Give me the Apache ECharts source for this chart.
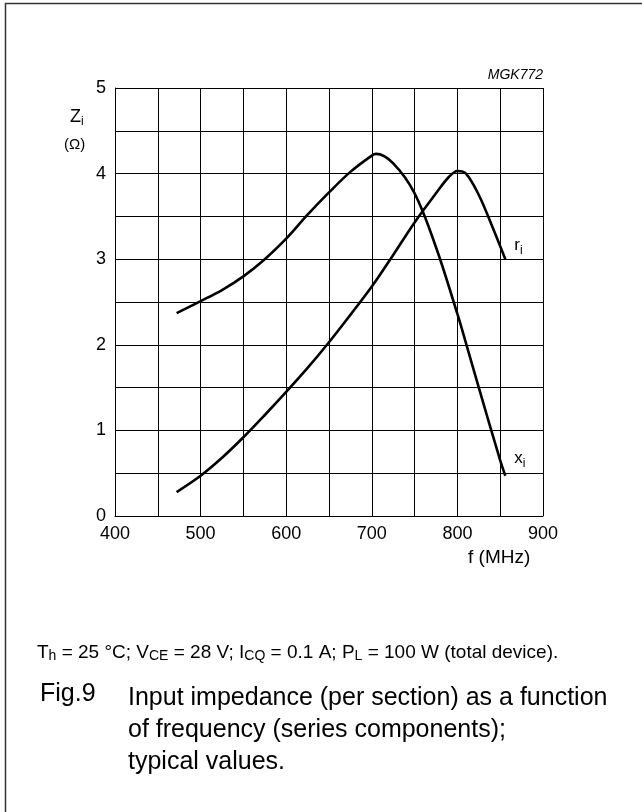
<!DOCTYPE html>
<html>
<head>
<meta charset="utf-8">
<script src="https://cdn.jsdelivr.net/npm/echarts@6/dist/echarts.min.js"></script>
<style>
  html, body { margin: 0; padding: 0; background: #fff; }
  #chart { width: 642px; height: 812px; }
</style>
</head>
<body>
<div id="chart"></div>
<script>
// x_i curve (peaks near 705 MHz)
const xiFreq = [472, 500, 525, 550, 575, 600, 625, 650, 675, 700, 705, 725, 750, 775, 800, 810, 825, 850, 856]
const xiVals = [2.37, 2.51, 2.64, 2.80, 3.00, 3.24, 3.52, 3.78, 4.02, 4.21, 4.23, 4.12, 3.77, 3.14, 2.36, 2.02, 1.50, 0.65, 0.47]
// r_i curve (peaks near 800 MHz)
const riFreq = [472, 500, 525, 550, 575, 600, 625, 650, 675, 700, 725, 750, 775, 790, 800, 810, 825, 840, 856]
const riVals = [0.28, 0.47, 0.68, 0.92, 1.18, 1.45, 1.73, 2.03, 2.35, 2.68, 3.05, 3.43, 3.77, 3.96, 4.03, 4.00, 3.75, 3.40, 3.00]

const xTicks = [400, 500, 600, 700, 800, 900]
const yTicks = [0, 1, 2, 3, 4, 5]

const FONT = 'Liberation Sans, Arial, sans-serif'

function pairs(xs, ys) {
  return xs.map((x, i) => [x, ys[i]])
}

function subLabel(main) {
  return {
    show: true,
    formatter: () => '{a|' + main + '}{b|i}',
    rich: {
      a: { fontFamily: FONT, fontSize: 17, color: '#000' },
      b: { fontFamily: FONT, fontSize: 12, color: '#000', padding: [10, 0, 0, 0] }
    }
  }
}

const chart = echarts.init(document.getElementById('chart'))

chart.setOption({
  animation: false,
  backgroundColor: '#fff',
  grid: { left: 115, top: 88, width: 428, height: 428 },
  xAxis: {
    type: 'value',
    min: 400,
    max: 900,
    interval: 50,
    axisLine: { show: true, lineStyle: { color: '#000', width: 1 } },
    axisTick: { show: false },
    splitLine: { show: true, lineStyle: { color: '#000', width: 1 } },
    axisLabel: {
      color: '#000',
      fontFamily: FONT,
      fontSize: 18,
      margin: 9,
      formatter: v => (xTicks.includes(v) ? String(v) : '')
    }
  },
  yAxis: {
    type: 'value',
    min: 0,
    max: 5,
    interval: 0.5,
    axisLine: { show: true, lineStyle: { color: '#000', width: 1 } },
    axisTick: { show: false },
    splitLine: { show: true, lineStyle: { color: '#000', width: 1 } },
    axisLabel: {
      color: '#000',
      fontFamily: FONT,
      fontSize: 18,
      margin: 9,
      padding: [7, 0, 0, 0],
      formatter: v => (yTicks.includes(v) ? String(v) : '')
    }
  },
  series: [
    {
      name: 'xi',
      type: 'line',
      data: pairs(xiFreq, xiVals),
      smooth: 0.35,
      symbol: 'none',
      lineStyle: { color: '#000', width: 2.6 },
      endLabel: Object.assign(subLabel('x'), { offset: [1, -17] })
    },
    {
      name: 'ri',
      type: 'line',
      data: pairs(riFreq, riVals),
      smooth: 0.35,
      symbol: 'none',
      lineStyle: { color: '#000', width: 2.6 },
      endLabel: Object.assign(subLabel('r'), { offset: [1, -14] })
    }
  ],
  graphic: [
    // figure frame: only the left and top edges are in view
    {
      type: 'polyline',
      shape: { points: [[5.5, 812], [5.5, 3.5], [642, 3.5]] },
      style: { stroke: '#333', lineWidth: 1.5, fill: null }
    },
    {
      type: 'text',
      right: 99,
      top: 68,
      style: { text: 'MGK772', font: 'italic 14px ' + FONT, fill: '#000' }
    },
    {
      type: 'text',
      left: 70,
      top: 108,
      style: {
        text: '{a|Z}{b|i}',
        rich: {
          a: { fontFamily: FONT, fontSize: 18, fill: '#000' },
          b: { fontFamily: FONT, fontSize: 12, fill: '#000', padding: [10, 0, 0, 0] }
        }
      }
    },
    {
      type: 'text',
      left: 64,
      top: 137,
      style: { text: '(Ω)', font: '15px ' + FONT, fill: '#000' }
    },
    {
      type: 'text',
      left: 468,
      top: 548,
      style: { text: 'f (MHz)', font: '19px ' + FONT, fill: '#000' }
    },
    {
      type: 'text',
      left: 37,
      top: 643,
      style: {
        text: 'T{s|h} = 25 °C; V{s|CE} = 28 V; I{s|CQ} = 0.1 A; P{s|L} = 100 W (total device).',
        font: '19px ' + FONT,
        fill: '#000',
        rich: {
          s: { fontFamily: FONT, fontSize: 14, fill: '#000', padding: [7, 0, 0, 0] }
        }
      }
    },
    {
      type: 'text',
      left: 40,
      top: 682,
      style: { text: 'Fig.9', font: '25px ' + FONT, fill: '#000' }
    },
    {
      type: 'text',
      left: 128,
      top: 682,
      style: {
        text: 'Input impedance (per section) as a function\nof frequency (series components);\ntypical values.',
        font: '25px ' + FONT,
        lineHeight: 32,
        fill: '#000'
      }
    }
  ]
})
</script>
</body>
</html>
